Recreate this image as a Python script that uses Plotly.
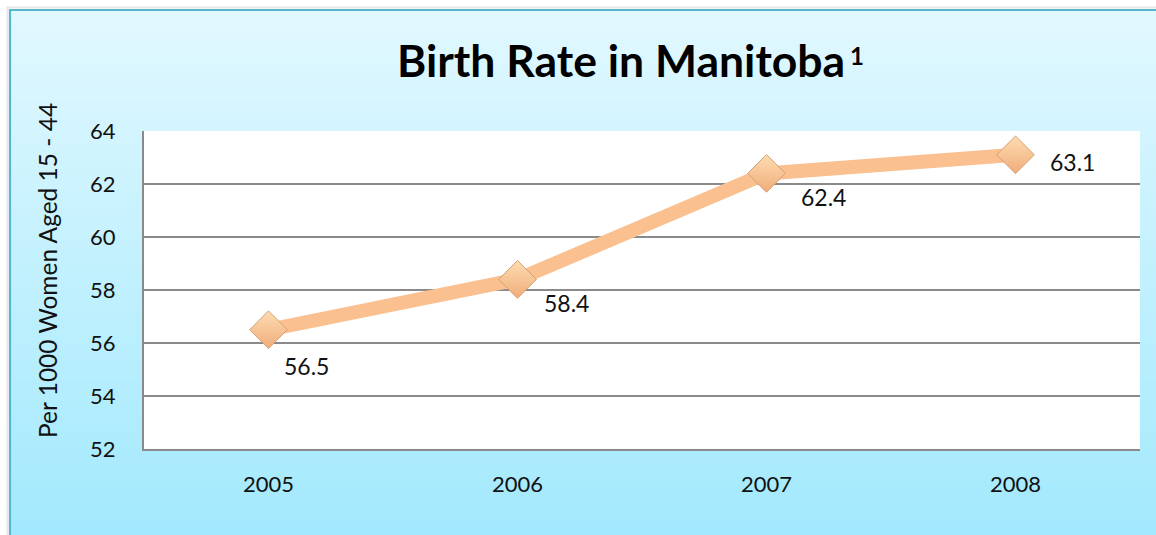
import plotly.graph_objects as go

# ---- data ----
years = ["2005", "2006", "2007", "2008"]
birth_rate = [56.5, 58.4, 62.4, 63.1]
y_ticks = [52, 54, 56, 58, 60, 62, 64]

# label offsets (pixels) - styling only
label_dx = [38, 49, 57, 57]
label_dy = [-36, -24, -24, -7]

W, H = 1156, 535
PL, PR, PT, PB = 144, 1140, 131, 449
ML, MT = PL, PT
MR, MB = W - PR, H - PB
PW, PH = PR - PL, PB - PT

def px_x(p):
    return (p - PL) / PW

def px_y(p):
    return (PB - p) / PH

FONT = "Lato"

fig = go.Figure()

fig.add_trace(go.Scatter(
    x=years, y=birth_rate, mode="lines+markers",
    line=dict(color="#fac08f", width=14),
    marker=dict(symbol="diamond", size=29, color="#fddcb2",
                gradient=dict(type="vertical", color="#f0ad7a"),
                line=dict(color="#d59f72", width=1)),
    hoverinfo="x+y", showlegend=False,
))

shapes = []
# gradient background bands
top = (225, 248, 255)
bot = (162, 233, 253)
y_start, y_end = 10, 540
n = 106
step = (y_end - y_start) / n
for i in range(n):
    t = i / (n - 1)
    c = tuple(round(top[k] + (bot[k] - top[k]) * t) for k in range(3))
    shapes.append(dict(type="rect", xref="paper", yref="paper",
                       x0=px_x(10), x1=px_x(1170),
                       y0=px_y(y_start + i * step), y1=px_y(y_start + (i + 1) * step + 0.6),
                       fillcolor="rgb(%d,%d,%d)" % c, line=dict(width=0), layer="below"))
# soft shadow lines + frame border (left and top only are visible)
for off, col, wd in [(7.5, "#e8e8e8", 2), (10, "#5ab6cf", 2.2)]:
    shapes.append(dict(type="line", xref="paper", yref="paper",
                       x0=px_x(off), x1=px_x(off), y0=px_y(off - 1), y1=px_y(600),
                       line=dict(color=col, width=wd), layer="below"))
    shapes.append(dict(type="line", xref="paper", yref="paper",
                       x0=px_x(off - 1), x1=px_x(1200), y0=px_y(off), y1=px_y(off),
                       line=dict(color=col, width=wd), layer="below"))
# white plot area
shapes.append(dict(type="rect", xref="paper", yref="paper",
                   x0=0, x1=1, y0=0, y1=1,
                   fillcolor="white", line=dict(width=0), layer="below"))

annotations = []
for i, (v, dx, dy) in enumerate(zip(birth_rate, label_dx, label_dy)):
    annotations.append(dict(x=i, y=v, xref="x", yref="y", text=f"{v:.1f}",
                            showarrow=False, xshift=dx, yshift=dy,
                            font=dict(family=FONT, size=23, color="#111111")))
annotations.append(dict(x=px_x(621), y=px_y(60), xref="paper", yref="paper",
                        text="<b>Birth Rate in Manitoba</b>",
                        showarrow=False, xanchor="center", yanchor="middle",
                        font=dict(family=FONT, size=44.5, color="black")))
annotations.append(dict(x=px_x(848), y=px_y(56), xref="paper", yref="paper",
                        text="<b>1</b>",
                        showarrow=False, xanchor="left", yanchor="middle",
                        font=dict(family=FONT, size=24, color="black")))
annotations.append(dict(x=px_x(47), y=px_y(271), xref="paper", yref="paper",
                        text="Per 1000 Women Aged 15 - 44", textangle=-90,
                        showarrow=False, xanchor="center", yanchor="middle",
                        font=dict(family=FONT, size=24.5, color="#111111")))

fig.update_layout(
    width=W, height=H,
    margin=dict(l=ML, r=MR, t=MT, b=MB, autoexpand=False),
    paper_bgcolor="white", plot_bgcolor="rgba(0,0,0,0)",
    shapes=shapes, annotations=annotations,
    font=dict(family=FONT, size=22, color="#111111"),
    xaxis=dict(type="category", categoryarray=years, categoryorder="array",
               range=[-0.5, len(years) - 0.5], autorange=False,
               showgrid=False, showline=True,
               linecolor="#8a8a8a", linewidth=2, ticks="", zeroline=False,
               tickfont=dict(family=FONT, size=22, color="#111111"),
               ticklabelstandoff=15, fixedrange=True),
    yaxis=dict(range=[52, 64], autorange=False, tickvals=y_ticks, showgrid=True,
               gridcolor="#8a8a8a", gridwidth=1.6, showline=True,
               linecolor="#8a8a8a", linewidth=2, zeroline=False, ticks="",
               tickfont=dict(family=FONT, size=22, color="#111111"),
               ticklabelstandoff=22, fixedrange=True),
)

fig.write_html(
    "out.html",
    config={"displayModeBar": False, "staticPlot": True},
    post_script=("document.body.style.margin='0';"
                 "document.body.style.overflow='hidden';"
                 "document.documentElement.style.overflow='hidden';"),
)
